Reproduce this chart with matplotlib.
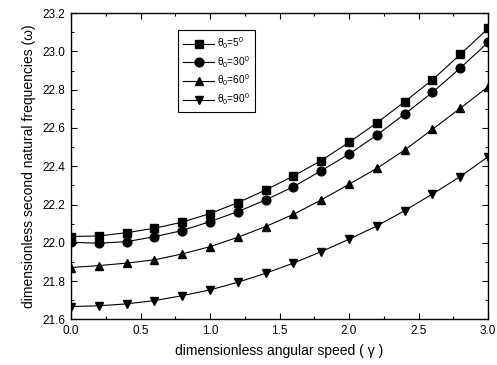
import matplotlib
matplotlib.use('Agg')
import matplotlib.pyplot as plt
from matplotlib.ticker import MultipleLocator

plt.rcParams['font.family'] = ['Liberation Sans', 'DejaVu Sans']
plt.rcParams['mathtext.fontset'] = 'custom'
plt.rcParams['mathtext.rm'] = 'Liberation Sans'
plt.rcParams['mathtext.it'] = 'Liberation Sans'

# Data
gamma = [0.0, 0.2, 0.4, 0.6, 0.8, 1.0, 1.2, 1.4, 1.6, 1.8, 2.0, 2.2, 2.4, 2.6, 2.8, 3.0]
w_5 = [22.033, 22.036, 22.053, 22.076, 22.108, 22.153, 22.210, 22.276, 22.349, 22.430,
       22.525, 22.627, 22.737, 22.852, 22.984, 23.120]
w_30 = [22.003, 21.998, 22.006, 22.032, 22.064, 22.111, 22.163, 22.224, 22.293, 22.377,
        22.464, 22.563, 22.673, 22.786, 22.913, 23.047]
w_60 = [21.871, 21.881, 21.894, 21.911, 21.942, 21.980, 22.029, 22.085, 22.149, 22.224,
        22.306, 22.389, 22.485, 22.593, 22.703, 22.815]
w_90 = [21.667, 21.671, 21.681, 21.698, 21.724, 21.754, 21.794, 21.841, 21.894, 21.954,
        22.019, 22.088, 22.168, 22.255, 22.346, 22.450]

labels = [r'$\theta_0$=5$^0$', r'$\theta_0$=30$^0$', r'$\theta_0$=60$^0$', r'$\theta_0$=90$^0$']
series = [w_5, w_30, w_60, w_90]
markers = ['s', 'o', '^', 'v']

fig = plt.figure(figsize=(4.97, 3.65), dpi=100)
ax = fig.add_axes([0.143, 0.125, 0.839, 0.839])

for vals, m, lab in zip(series, markers, labels):
    ax.plot(gamma, vals, color='black', linewidth=0.8, marker=m, markersize=6.3, label=lab)

ax.set_xlim(0, 3.0)
ax.set_ylim(21.6, 23.2)
ax.xaxis.set_major_locator(MultipleLocator(0.5))
ax.xaxis.set_minor_locator(MultipleLocator(0.25))
ax.yaxis.set_major_locator(MultipleLocator(0.2))
ax.yaxis.set_minor_locator(MultipleLocator(0.1))
ax.tick_params(which='both', direction='in', top=True, right=True, labelsize=8.5)
ax.tick_params(which='major', length=4, width=0.8, pad=4)
ax.tick_params(which='minor', length=2.5, width=0.8)
for sp in ax.spines.values():
    sp.set_linewidth(1.0)

ax.set_xlabel('dimensionless angular speed ( \u03b3 )', fontsize=10, labelpad=5)
ax.set_ylabel('dimensionless second natural frequencies (\u03c9)', fontsize=10, labelpad=5)

leg = ax.legend(loc='upper left', bbox_to_anchor=(0.245, 0.96), fontsize=7.3,
                frameon=True, fancybox=False, edgecolor='black', framealpha=1,
                handlelength=3, handletextpad=0.3, labelspacing=0.3, borderpad=0.5)
leg.get_frame().set_linewidth(0.8)

fig.savefig('out.png', dpi=100)
